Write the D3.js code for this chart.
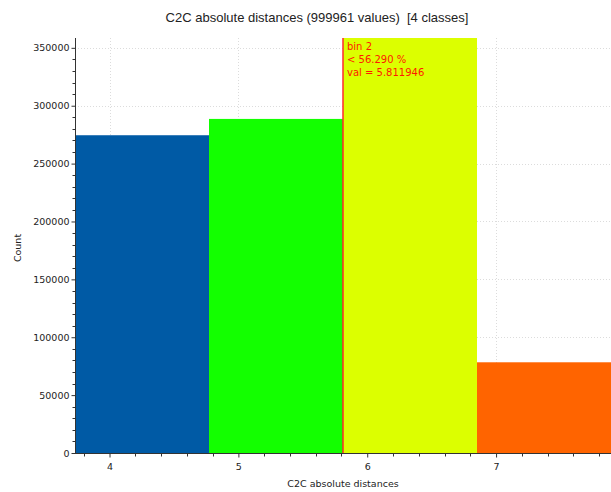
<!DOCTYPE html>
<html>
<head>
<meta charset="utf-8">
<script src="https://cdn.jsdelivr.net/npm/d3@7"></script>
<style>
  html, body { margin: 0; padding: 0; background: #fff; }
  svg { display: block; }
  .tick text { font-family: "DejaVu Sans", sans-serif; font-size: 9.5px; fill: #222; }
</style>
</head>
<body>
<svg id="chart" width="611" height="492"></svg>
<script>
// Histogram of C2C absolute distances, 4 classes
const binMin = 3.732;
const binWidth = 1.04;
const binCounts = [274500, 288600, 358500, 78361];
const binColors = ["#005aa5", "#13ff00", "#dcff00", "#ff6400"];
const xTicks = [4, 5, 6, 7];
const yTicks = [0, 50000, 100000, 150000, 200000, 250000, 300000, 350000];
const markerBin = 2;
const markerVal = 5.811946;
const markerPct = "56.290";

const W = 611, H = 492;
const m = { top: 38, right: 0, bottom: 39, left: 75 };

const svg = d3.select("#chart");

const x = d3.scaleLinear()
  .domain([binMin, binMin + binWidth * binCounts.length])
  .range([m.left, W - m.right]);
const y = d3.scaleLinear()
  .domain([0, d3.max(binCounts)])
  .range([H - m.bottom, m.top]);

// grid (dotted)
const grid = svg.append("g").attr("stroke", "#dcdcdc").attr("stroke-dasharray", "1,2");
grid.selectAll("line.gy").data(yTicks.slice(1)).join("line")
  .attr("x1", m.left).attr("x2", W)
  .attr("y1", (d) => Math.round(y(d)) + 0.5).attr("y2", (d) => Math.round(y(d)) + 0.5);
grid.selectAll("line.gx").data(xTicks).join("line")
  .attr("y1", m.top).attr("y2", H - m.bottom)
  .attr("x1", (d) => Math.round(x(d)) + 0.5).attr("x2", (d) => Math.round(x(d)) + 0.5);

// bars
svg.append("g").selectAll("rect").data(binCounts).join("rect")
  .attr("x", (d, i) => x(binMin + i * binWidth))
  .attr("width", (d, i) => x(binMin + (i + 1) * binWidth) - x(binMin + i * binWidth))
  .attr("y", (d) => y(d))
  .attr("height", (d) => y(0) - y(d))
  .attr("fill", (d, i) => binColors[i]);

// marker line
svg.append("line")
  .attr("x1", x(markerVal)).attr("x2", x(markerVal))
  .attr("y1", m.top).attr("y2", H - m.bottom)
  .attr("stroke", "#ff2a2a").attr("stroke-width", 1.5);

const note = svg.append("text")
  .attr("x", x(markerVal) + 4).attr("y", m.top + 12)
  .attr("fill", "#ff1a00")
  .style("font-family", "'DejaVu Sans', sans-serif")
  .style("font-size", "10px");
["bin " + markerBin, "< " + markerPct + " %", "val = " + markerVal].forEach((t, i) => {
  note.append("tspan").attr("x", x(markerVal) + 4).attr("dy", i ? 13 : 0).text(t);
});

// y axis
const yAxis = svg.append("g").attr("transform", `translate(${m.left + 0.5},0)`)
  .call(d3.axisLeft(y).tickValues(yTicks).tickSize(4).tickPadding(2).tickFormat(d3.format("d")));
yAxis.selectAll("line, path").attr("stroke", "#333");
yAxis.select(".domain").attr("d", `M0,${m.top}V${H - m.bottom}`);
svg.append("g").attr("transform", `translate(${m.left + 0.5},0)`)
  .selectAll("line").data(d3.range(0, d3.max(binCounts), 10000).filter((v) => v % 50000))
  .join("line")
  .attr("x1", -3).attr("x2", 0)
  .attr("y1", (d) => Math.round(y(d)) + 0.5).attr("y2", (d) => Math.round(y(d)) + 0.5)
  .attr("stroke", "#333");

// x axis
const xAxis = svg.append("g").attr("transform", `translate(0,${H - m.bottom + 0.5})`)
  .call(d3.axisBottom(x).tickValues(xTicks).tickSize(4).tickPadding(6).tickFormat(d3.format("d")));
xAxis.selectAll("line, path").attr("stroke", "#333");
xAxis.select(".domain").attr("d", `M${m.left},0H${W}`);
svg.append("g").attr("transform", `translate(0,${H - m.bottom + 0.5})`)
  .selectAll("line").data(d3.range(3.8, 7.9, 0.2).filter((v) => Math.abs(v - Math.round(v)) > 0.01))
  .join("line")
  .attr("x1", (d) => Math.round(x(d)) + 0.5).attr("x2", (d) => Math.round(x(d)) + 0.5)
  .attr("y1", 0).attr("y2", 3)
  .attr("stroke", "#333");

// titles
svg.append("text").attr("x", 317).attr("y", 22).attr("text-anchor", "middle")
  .style("font-family", "'Liberation Sans', Arial, sans-serif").style("font-size", "13px")
  .attr("fill", "#222")
  .attr("xml:space", "preserve")
  .text("C2C absolute distances (999961 values)  [4 classes]");

svg.append("text").attr("x", 343).attr("y", 487).attr("text-anchor", "middle")
  .style("font-family", "'DejaVu Sans', sans-serif").style("font-size", "9.5px")
  .attr("fill", "#222").text("C2C absolute distances");

svg.append("text").attr("transform", "translate(21,248) rotate(-90)").attr("text-anchor", "middle")
  .style("font-family", "'DejaVu Sans', sans-serif").style("font-size", "9.5px")
  .attr("fill", "#222").text("Count");
</script>
</body>
</html>
